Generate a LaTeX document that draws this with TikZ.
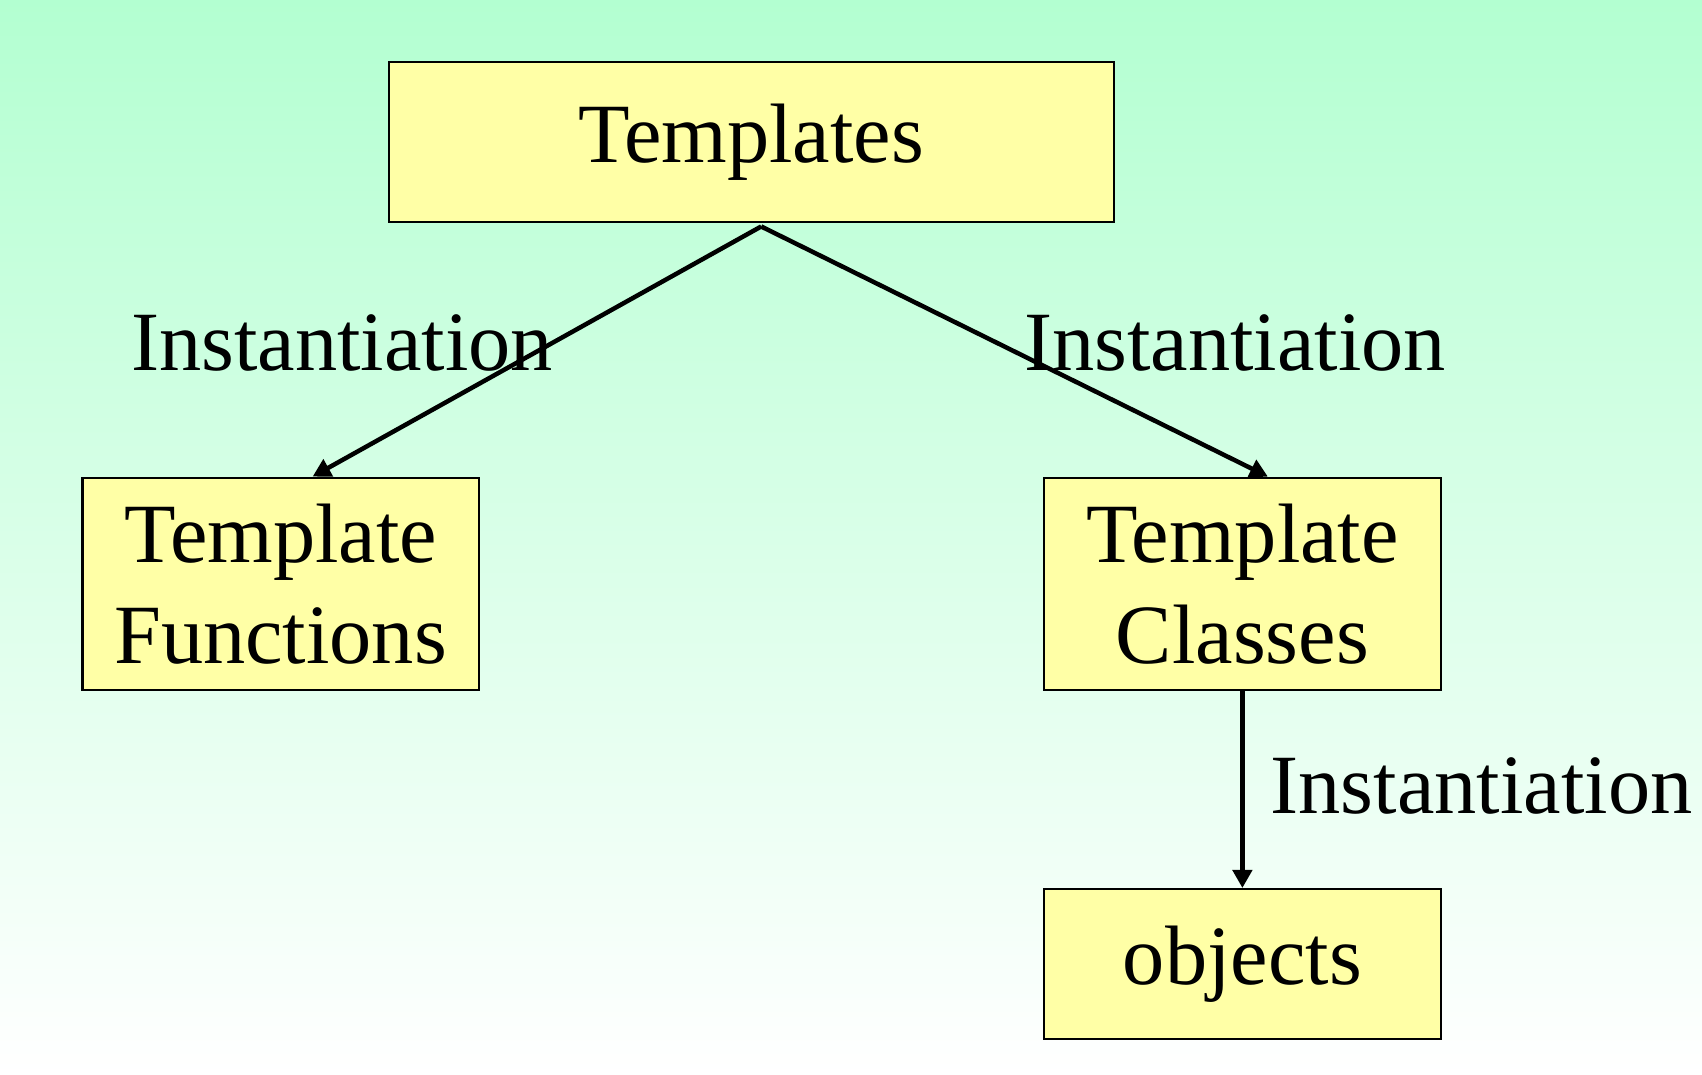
\documentclass[tikz,border=0pt]{standalone}
\usepackage{fontspec}
\setmainfont{Liberation Serif}
\usetikzlibrary{arrows.meta}
\definecolor{bgtop}{RGB}{179,255,209}
\definecolor{boxfill}{RGB}{255,255,166}
\tikzset{>/.tip={Triangle[length=0.18cm,width=0.19cm]},
  box/.style={draw=black, line width=0.02cm, fill=boxfill, inner sep=0pt, align=center,
    font=\fontsize{24}{28.8}\selectfont},
  lbl/.style={anchor=base, inner sep=0pt, font=\fontsize{24}{28.8}\selectfont}}

\begin{document}
\begin{tikzpicture}
\shade[top color=bgtop, bottom color=white] (0,0) rectangle (17.02,-10.75);
\useasboundingbox (0,0) rectangle (17.02,-10.75);
\node[box, minimum width=7.25cm, minimum height=1.606cm] (tmpl) at (7.512,-1.422) {Templates};
\node[box, minimum width=3.962cm, minimum height=2.128cm] (func) at (2.806,-5.84) {Template\\Functions};
\node[box, minimum width=3.962cm, minimum height=2.128cm] (cls) at (12.424,-5.84) {Template\\Classes};
\node[box, minimum width=3.962cm, minimum height=1.498cm] (obj) at (12.424,-9.639) {objects};
\node[lbl] (lblf) at (3.42,-3.71) {Instantiation};
\node[lbl] (lblc) at (12.35,-3.71) {Instantiation};
\node[lbl] (lblo) at (14.815,-8.14) {Instantiation};
\draw[->, line width=0.045cm] ([xshift=0.1cm,yshift=-0.03cm]tmpl.south) -- ([xshift=0.32cm]func.north);
\draw[->, line width=0.045cm] ([xshift=0.1cm,yshift=-0.03cm]tmpl.south) -- ([xshift=0.255cm]cls.north);
\draw[->, line width=0.045cm] (cls.south) -- (obj.north);
\end{tikzpicture}
\end{document}
